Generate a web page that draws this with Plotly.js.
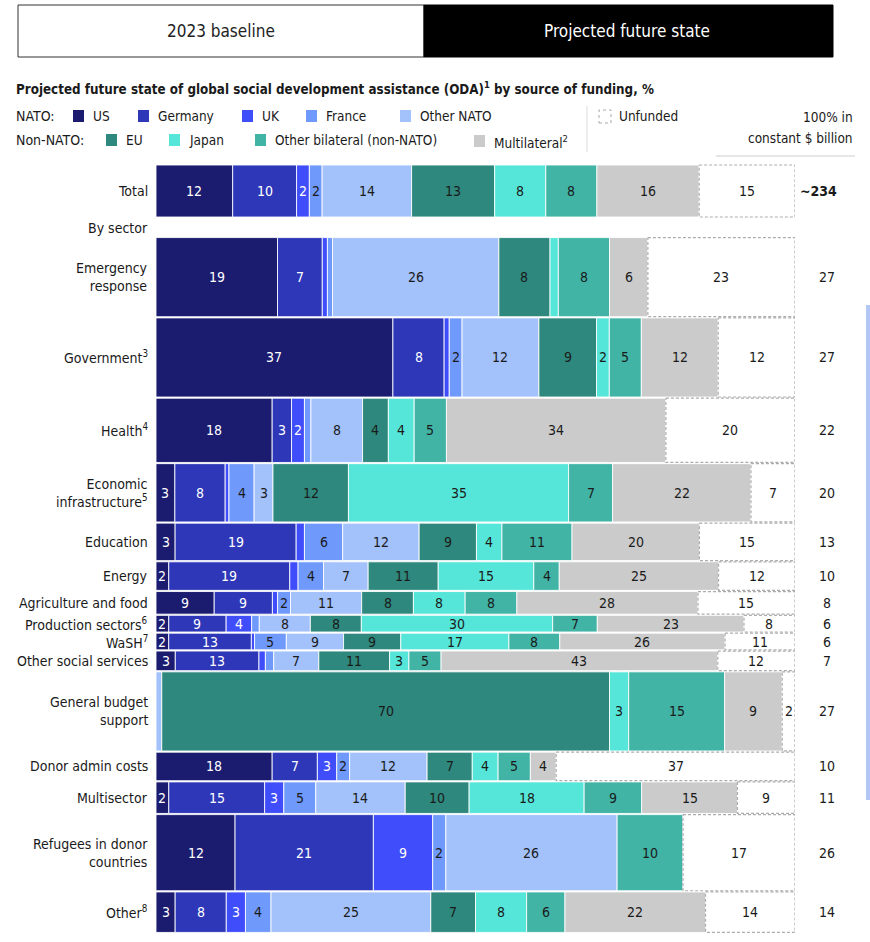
<!DOCTYPE html>
<html><head><meta charset="utf-8">
<script src="https://cdn.plot.ly/plotly-3.0.1.min.js"></script>
<style>html,body{margin:0;padding:0;background:#fff}#chart{width:870px;height:942px}</style>
</head><body><div id="chart"></div>
<script>
// ---------------- DATA ----------------
const rowLabels = ["Total","Emergency<br>response","Government<sup>3</sup>","Health<sup>4</sup>","Economic<br>infrastructure<sup>5</sup>","Education","Energy","Agriculture and food","Production sectors<sup>6</sup>","WaSH<sup>7</sup>","Other social services","General budget<br>support","Donor admin costs","Multisector","Refugees in donor<br>countries","Other<sup>8</sup>"];
const totalFundingLabel = "~234";
const sectorFundingBn = [27,27,22,20,13,10,8,6,6,7,27,10,11,26,14]; // rows 1..15
const seriesNames = ["US","Germany","UK","France","Other NATO","EU","Japan","Other bilateral (non-NATO)","Multilateral<sup>2</sup>","Unfunded"];
const us             = [12,19,37,18,3,3,2,9,2,2,3,0,18,2,12,3];
const germany        = [10,7,8,3,8,19,19,9,9,13,13,0,7,15,21,8];
const uk             = [2,0.8,0.8,2,0.6,1.3,1.3,0.8,4,0.5,1,0,3,3,9,3];
const france         = [2,0.8,2,1,4,6,4,2,1.2,5,1.3,0,2,5,2,4];
const otherNato      = [14,26,12,8,3,12,7,11,8,9,7,0.9,12,14,26,25];
const eu             = [13,8,9,4,12,9,11,8,8,9,11,70,7,10,0,7];
const japan          = [8,1.3,2,4,35,4,15,8,30,17,3,3,4,18,0,8];
const otherBilateral = [8,8,5,5,7,11,4,8,7,8,5,15,5,9,10,6];
const multilateral   = [16,6,12,34,22,20,25,28,23,26,43,9,4,15,0,22];
const unfunded       = [15,23,12,20,7,15,12,15,8,11,12,2,37,9,17,14];

// ---------------- STYLE ----------------
const seriesData = [us,germany,uk,france,otherNato,eu,japan,otherBilateral,multilateral,unfunded];
const seriesColors = ["#1b1b70","#2d37b7","#3f4dfb","#6f99fa","#a3c1fb","#2e887d","#56e6d9","#41b4a6","#cbcbcb","#ffffff"];
const textColors = ["#ffffff","#ffffff","#ffffff","#1a1a1a","#1a1a1a","#1a1a1a","#1a1a1a","#1a1a1a","#1a1a1a","#1a1a1a"];
const FONT = "'DejaVu Sans Condensed','Liberation Sans Narrow',sans-serif";
const W=870, H=942, PL=156, PR=795, PT=164, PB=934;
const px = x => (x-PL)/(PR-PL);
const py = y => (PB-y)/(PB-PT);

// vertical scale: sector rows span pixel 237..933
const SEC_TOP=237, SEC_BOT=933;
const sumBn = sectorFundingBn.reduce((a,b)=>a+b,0);
const k = (SEC_BOT-SEC_TOP)/sumBn;
const toU = p => (p-SEC_TOP)/k;
const yRange = [toU(PB), toU(PT)];

// row centres and heights
const centers=[], heights=[];
centers.push((toU(165)+toU(217))/2); heights.push(toU(217)-toU(165));
let cum=0;
sectorFundingBn.forEach(v=>{ centers.push(cum+v/2); heights.push(v-0.4); cum+=v; });

// normalized widths and bases
const nRows = rowLabels.length;
const rowSums = [];
for(let r=0;r<nRows;r++){ let s=0; seriesData.forEach(a=>s+=a[r]); rowSums.push(s); }
const bases = seriesData.map(()=>[]), widths = seriesData.map(()=>[]);
for(let r=0;r<nRows;r++){
  let acc=0;
  seriesData.forEach((a,si)=>{
    const w = a[r]/rowSums[r]*100;
    bases[si].push(acc); widths[si].push(w); acc+=w;
  });
}

const traces = [];
const ann=[], shapes=[];
seriesData.forEach((a,si)=>{
  traces.push({
    type:'bar', orientation:'h', name:seriesNames[si],
    y:centers, x:widths[si].map(w=>w>0?w:null), base:bases[si], width:heights,
    marker:{color:seriesColors[si], line:{color:'rgba(255,255,255,0.85)', width:1}},
    hoverinfo:'skip', showlegend:false
  });
  // segment labels
  a.forEach((v,r)=>{
    if(v>=1.5) ann.push({xref:'x',yref:'y',x:bases[si][r]+widths[si][r]/2,y:centers[r],text:String(Math.round(v)),
      showarrow:false,xanchor:'center',yanchor:'middle',font:{family:FONT,size:14,color:textColors[si]}});
  });
});
// dashed outline for unfunded boxes
const ux=[], uy=[];
const ui = seriesData.length-1;
for(let r=0;r<nRows;r++){
  const x0=bases[ui][r], x1=100, y0=centers[r]-heights[r]/2, y1=centers[r]+heights[r]/2;
  ux.push(x0,x1,x1,x0,x0,null); uy.push(y0,y0,y1,y1,y0,null);
}
traces.push({type:'scatter', mode:'lines', x:ux, y:uy, line:{color:'#adadad', width:1.2, dash:'3px,2px'}, hoverinfo:'skip', showlegend:false, cliponaxis:false});

// ---------------- ANNOTATIONS / SHAPES ----------------
const txt=(x,y,text,opt={})=>ann.push(Object.assign({xref:'paper',yref:'paper',x:px(x),y:py(y),text,showarrow:false,xanchor:'left',yanchor:'middle',font:{family:FONT,size:14,color:'#1a1a1a'}},opt));

// row labels and funding
for(let r=0;r<nRows;r++){
  ann.push({xref:'paper',yref:'y',x:0,xshift:-6,y:centers[r],text:rowLabels[r],showarrow:false,xanchor:'right',yanchor:'middle',align:'right',font:{family:FONT,size:14,color:'#1a1a1a'}});
  const lab = r===0 ? '<b>'+totalFundingLabel+'</b>' : String(sectorFundingBn[r-1]);
  ann.push({xref:'paper',yref:'y',x:px(r===0?818:827),y:centers[r],text:lab,showarrow:false,xanchor:'center',yanchor:'middle',font:{family:FONT,size:14,color:'#1a1a1a'}});
}
txt(150,228,'By sector',{xanchor:'right'});

// header tabs
shapes.push({type:'rect',xref:'paper',yref:'paper',x0:px(18),x1:px(424),y0:py(57),y1:py(5),fillcolor:'#ffffff',line:{color:'#333',width:1}});
shapes.push({type:'rect',xref:'paper',yref:'paper',x0:px(424),x1:px(833),y0:py(57),y1:py(5),fillcolor:'#000000',line:{color:'#000',width:1}});
txt(221,31,'2023 baseline',{xanchor:'center',font:{family:FONT,size:17,color:'#222'}});
txt(627,31,'Projected future state',{xanchor:'center',font:{family:FONT,size:17,color:'#fff'}});

// title
txt(14,88,'<b>Projected future state of global social development assistance (ODA)<sup>1</sup> by source of funding, %</b>',{font:{family:FONT,size:13.3,color:'#1a1a1a'}});

// legend
txt(14,116,'NATO:');
txt(14,140,'Non-NATO:');
const legPos = [[73,116],[138,116],[242,116],[306,116],[400,116],[106,140],[169,140],[255,140],[474,141]];
legPos.forEach((p,i)=>{
  shapes.push({type:'rect',xref:'paper',yref:'paper',x0:px(p[0]),x1:px(p[0]+11),y0:py(p[1]+6),y1:py(p[1]-6),fillcolor:seriesColors[i],line:{width:0}});
  txt(p[0]+18,p[1]+(i===8?1:0),seriesNames[i],{font:{family:FONT,size:13.5,color:'#1a1a1a'}});
});
shapes.push({type:'rect',xref:'paper',yref:'paper',x0:px(599),x1:px(611),y0:py(123),y1:py(110),fillcolor:'#fff',line:{color:'#aaa',width:1,dash:'dot'}});
txt(617,116,'Unfunded',{font:{family:FONT,size:13.5,color:'#1a1a1a'}});
shapes.push({type:'line',xref:'paper',yref:'paper',x0:px(587),x1:px(587),y0:py(152),y1:py(106),line:{color:'#dddddd',width:1}});
txt(855,117,'100% in',{xanchor:'right',font:{family:FONT,size:13.5,color:'#1a1a1a'}});
txt(855,138,'constant $ billion',{xanchor:'right',font:{family:FONT,size:13.5,color:'#1a1a1a'}});
shapes.push({type:'line',xref:'paper',yref:'paper',x0:px(716),x1:px(855),y0:py(156),y1:py(156),line:{color:'#e6e6e6',width:2}});
// right edge strip
shapes.push({type:'rect',xref:'paper',yref:'paper',x0:px(866),x1:px(871),y0:py(800),y1:py(305),fillcolor:'#b3c7f5',line:{width:0}});

const layout = {
  width:W, height:H, margin:{l:PL,r:W-PR,t:PT,b:H-PB,pad:0},
  paper_bgcolor:'#fff', plot_bgcolor:'#fff', barmode:'overlay', bargap:0,
  showlegend:false, font:{family:FONT,size:14,color:'#1a1a1a'},
  xaxis:{range:[0,100],visible:false,fixedrange:true},
  yaxis:{range:yRange,visible:false,fixedrange:true},
  annotations:ann, shapes:shapes
};
Plotly.newPlot('chart',traces,layout,{displayModeBar:false,staticPlot:true});
</script></body></html>
